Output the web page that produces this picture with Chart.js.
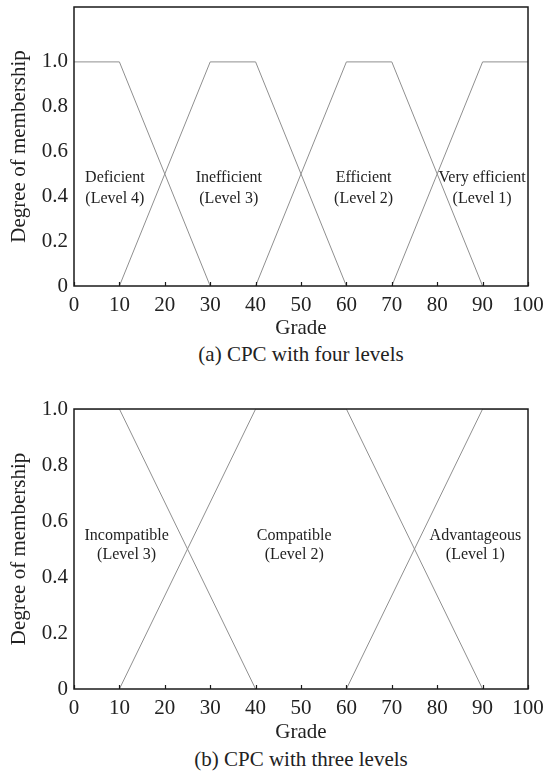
<!DOCTYPE html>
<html>
<head>
<meta charset="utf-8">
<script src="https://cdn.jsdelivr.net/npm/chart.js@4/dist/chart.umd.min.js"></script>
<style>
  body { margin: 0; background: #fff; }
  #page { position: relative; width: 544px; height: 771px; font-family: "Liberation Serif", "Times New Roman", serif; color: #222; }
  .box { position: absolute; left: 0; width: 544px; }
  .caption { position: absolute; left: 74px; width: 454px; text-align: center; font-size: 21px; line-height: 24px; }
</style>
</head>
<body>
<div id="page">
  <div class="box" style="top:0; height:341px;"><canvas id="chartA" width="544" height="341"></canvas></div>
  <div class="caption" style="top:342px;">(a) CPC with four levels</div>
  <div class="box" style="top:400px; height:345px;"><canvas id="chartB" width="544" height="345"></canvas></div>
  <div class="caption" style="top:747px;">(b) CPC with three levels</div>
</div>
<script>
const FONT = '"Liberation Serif", "Times New Roman", serif';
const LINE_COLOR = '#8f8f8f';

// x ticks / y ticks
const xTicks = [0, 10, 20, 30, 40, 50, 60, 70, 80, 90, 100];
const yTicks = [0, 0.2, 0.4, 0.6, 0.8, 1.0];
const yTickLabels = ['0', '0.2', '0.4', '0.6', '0.8', '1.0'];

// (a) four levels: grade breakpoints and membership values
const deficientX = [0, 10, 30];
const deficientY = [1, 1, 0];
const inefficientX = [10, 30, 40, 60];
const inefficientY = [0, 1, 1, 0];
const efficientX = [40, 60, 70, 90];
const efficientY = [0, 1, 1, 0];
const veryEfficientX = [70, 90, 100];
const veryEfficientY = [0, 1, 1];

// (b) three levels
const incompatibleX = [0, 10, 40];
const incompatibleY = [1, 1, 0];
const compatibleX = [10, 40, 60, 90];
const compatibleY = [0, 1, 1, 0];
const advantageousX = [60, 90, 100];
const advantageousY = [0, 1, 1];

// level names, placed in grade / membership units
const labelsA = [
  { lines: ['Deficient', '(Level 4)'], x: 9.0, y: 0.435 },
  { lines: ['Inefficient', '(Level 3)'], x: 34.1, y: 0.435 },
  { lines: ['Efficient', '(Level 2)'], x: 63.8, y: 0.435 },
  { lines: ['Very efficient', '(Level 1)'], x: 89.9, y: 0.435 },
];
const labelsB = [
  { lines: ['Incompatible', '(Level 3)'], x: 11.6, y: 0.515 },
  { lines: ['Compatible', '(Level 2)'], x: 48.5, y: 0.515 },
  { lines: ['Advantageous', '(Level 1)'], x: 88.4, y: 0.515 },
];

function toPoints(xs, ys) {
  return xs.map((x, i) => ({ x: x, y: ys[i] }));
}

function lineSet(label, xs, ys) {
  return {
    label: label,
    data: toPoints(xs, ys),
    borderColor: LINE_COLOR,
    borderWidth: 1,
    pointRadius: 0,
    tension: 0,
    fill: false,
  };
}

function noPad(s) {
  s.paddingLeft = 0;
  s.paddingRight = 0;
  s.paddingTop = 0;
  s.paddingBottom = 0;
}

// frame, inward x ticks and the level names
const framePlugin = {
  id: 'frame',
  afterDatasetsDraw(chart, args, opts) {
    const { ctx, chartArea: a, scales } = chart;
    ctx.save();
    ctx.strokeStyle = '#1a1a1a';
    ctx.lineWidth = 1.5;
    ctx.strokeRect(a.left, a.top, a.right - a.left, a.bottom - a.top);
    ctx.lineWidth = 1.2;
    xTicks.forEach((v) => {
      const px = Math.round(scales.x.getPixelForValue(v)) + 0.5;
      ctx.beginPath();
      ctx.moveTo(px, a.bottom);
      ctx.lineTo(px, a.bottom - 4);
      ctx.stroke();
    });
    ctx.fillStyle = '#222';
    ctx.font = '16px ' + FONT;
    ctx.textAlign = 'center';
    ctx.textBaseline = 'middle';
    opts.labels.forEach((l) => {
      const cx = scales.x.getPixelForValue(l.x);
      const cy = scales.y.getPixelForValue(l.y);
      ctx.fillText(l.lines[0], cx, cy - opts.gap / 2);
      ctx.fillText(l.lines[1], cx, cy + opts.gap / 2);
    });
    ctx.restore();
  },
};

function makeChart(id, datasets, yMax, plotTop, xHeight, labels, gap) {
  return new Chart(document.getElementById(id), {
    type: 'line',
    data: { datasets: datasets },
    plugins: [framePlugin],
    options: {
      responsive: false,
      animation: false,
      layout: { padding: { top: plotTop, right: 16, left: 0, bottom: 0 } },
      plugins: {
        legend: { display: false },
        tooltip: { enabled: false },
        frame: { labels: labels, gap: gap },
      },
      scales: {
        x: {
          type: 'linear',
          min: 0,
          max: 100,
          afterBuildTicks: (s) => { s.ticks = xTicks.map((v) => ({ value: v })); },
          afterFit: (s) => { s.height = xHeight; noPad(s); },
          grid: { display: false, drawTicks: false },
          border: { display: false },
          ticks: { color: '#222', padding: 7, font: { family: FONT, size: 21 }, maxRotation: 0, autoSkip: false },
          title: { display: true, text: 'Grade', color: '#222', padding: 0, font: { family: FONT, size: 21 } },
        },
        y: {
          type: 'linear',
          min: 0,
          max: yMax,
          afterBuildTicks: (s) => { s.ticks = yTicks.map((v) => ({ value: v })); },
          afterFit: (s) => { s.width = 74; noPad(s); },
          grid: { display: false, drawTicks: false },
          border: { display: false },
          ticks: {
            color: '#222',
            padding: 6,
            font: { family: FONT, size: 21 },
            callback: (v, i) => yTickLabels[i],
          },
          title: { display: true, text: 'Degree of membership', color: '#222', padding: { top: 7, bottom: 0 }, font: { family: FONT, size: 21 } },
        },
      },
    },
  });
}

makeChart('chartA', [
  lineSet('Deficient', deficientX, deficientY),
  lineSet('Inefficient', inefficientX, inefficientY),
  lineSet('Efficient', efficientX, efficientY),
  lineSet('Very efficient', veryEfficientX, veryEfficientY),
], 1.245, 7, 55, labelsA, 21);

makeChart('chartB', [
  lineSet('Incompatible', incompatibleX, incompatibleY),
  lineSet('Compatible', compatibleX, compatibleY),
  lineSet('Advantageous', advantageousX, advantageousY),
], 1.0, 9, 56, labelsB, 19);
</script>
</body>
</html>
